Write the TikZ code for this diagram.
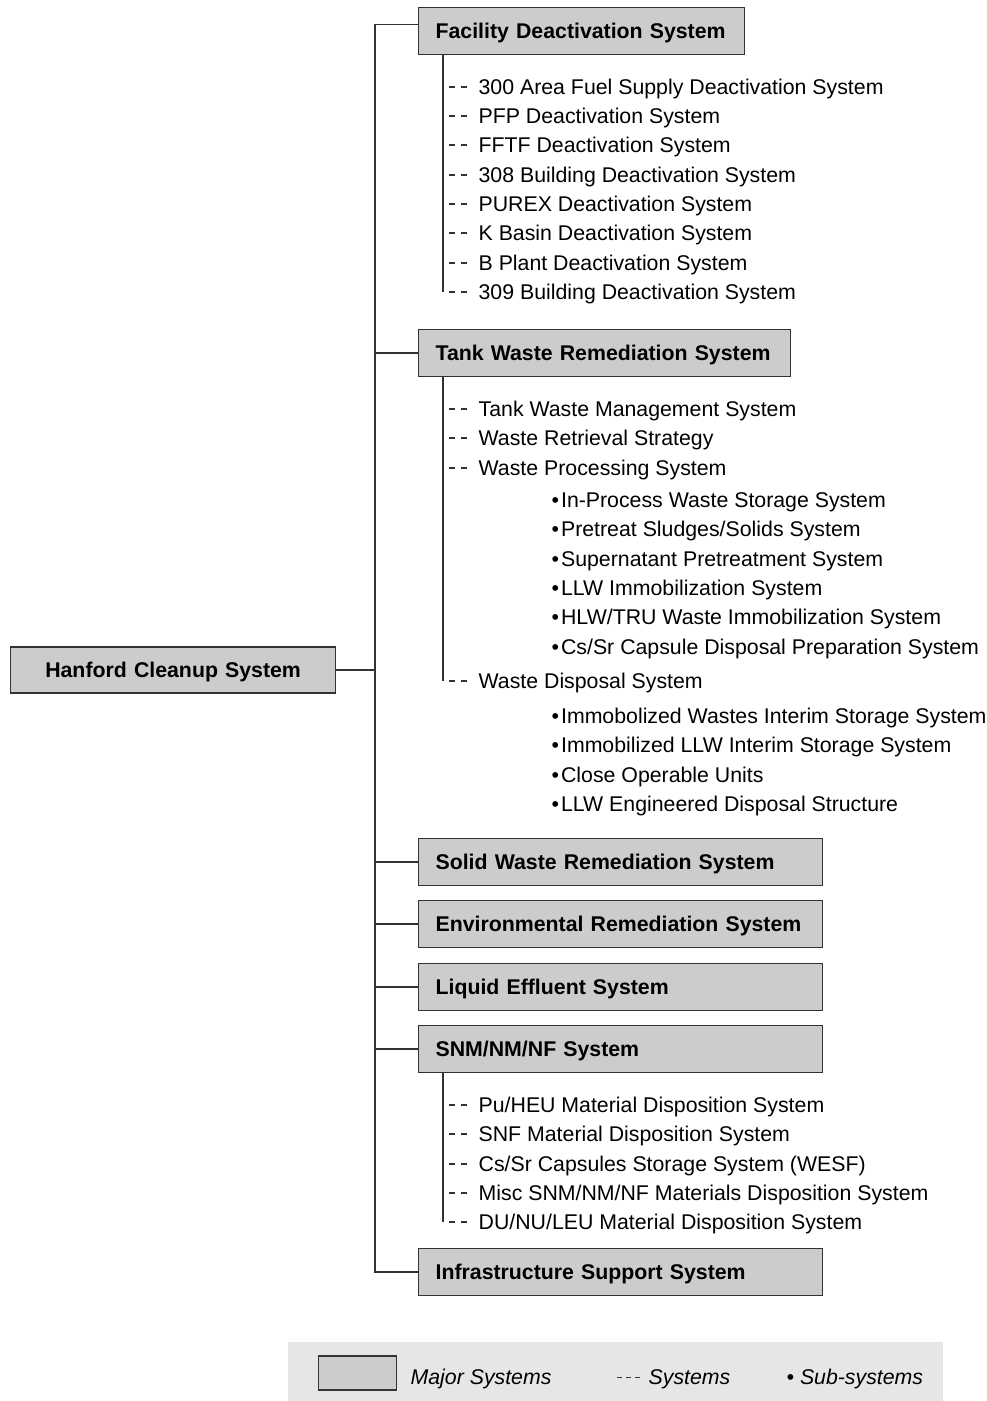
\documentclass[tikz,border=0pt]{standalone}
\usepackage{fontspec}
\setmainfont{Liberation Sans}
\usepackage{tikz}

\definecolor{boxgray}{HTML}{CCCCCC}
\definecolor{keygray}{HTML}{E6E6E6}
\definecolor{rulegray}{HTML}{333333}
\newcommand{\chartfont}{\fontsize{21.3}{25.6}\selectfont}

\begin{document}
\begin{tikzpicture}[x=1pt, y=-1pt, line width=1.3pt, draw=rulegray,
    major/.style={draw=rulegray, fill=boxgray, line width=1.2pt, anchor=north west, minimum height=47pt, inner xsep=17pt, text width=#1, align=left, text height=15.3pt, text depth=0pt, font=\chartfont\bfseries},
    sys/.style={anchor=west, inner xsep=8pt, inner ysep=0pt, text height=15.3pt, text depth=0pt, font=\chartfont},
    sub/.style={anchor=west, inner sep=0pt, text height=15.3pt, text depth=0pt, font=\chartfont},
    sysline/.style={draw=rulegray, line width=1.2pt, dash pattern=on 6pt off 6pt, dash phase=6pt}]
    \useasboundingbox (0,0) rectangle (987,1401);

    % top level
    \node[major=291pt, align=center, anchor=west, minimum height=46pt] (hcs) at (10,670) {Hanford Cleanup System};

    % major systems
    \node[major=292pt] (fds) at (418,7) {Facility Deactivation System};
    \node[major=338pt] (tws) at (418,329) {Tank Waste Remediation System};
    \node[major=370pt] (sws) at (418,838) {Solid Waste Remediation System};
    \node[major=370pt] (ers) at (418,900) {Environmental Remediation System};
    \node[major=370pt] (les) at (418,963) {Liquid Effluent System};
    \node[major=370pt] (snm) at (418,1025) {SNM/NM/NF System};
    \node[major=370pt] (iss) at (418,1248) {Infrastructure Support System};

    \draw (hcs.east) -- ++(40,0);
    \draw ([yshift=6.5pt]fds.west) -- ++(-43,0) |- (iss.west);
    \draw (tws.west) -- ++(-43,0);
    \draw (sws.west) -- ++(-43,0);
    \draw (ers.west) -- ++(-43,0);
    \draw (les.west) -- ++(-43,0);
    \draw (snm.west) -- ++(-43,0);

    % facility deactivation
    \coordinate (fdbar) at ([xshift=25pt]fds.south west);
    \node[sys] (fdone) at (470,87) {300 Area Fuel Supply Deactivation System};
    \node[sys] (fdtwo) at (470,116) {PFP Deactivation System};
    \node[sys] (fdthree) at (470,145) {FFTF Deactivation System};
    \node[sys] (fdfour) at (470,175) {308 Building Deactivation System};
    \node[sys] (fdfive) at (470,204) {PUREX Deactivation System};
    \node[sys] (fdsix) at (470,233) {K Basin Deactivation System};
    \node[sys] (fdseven) at (470,263) {B Plant Deactivation System};
    \node[sys] (fdeight) at (470,292) {309 Building Deactivation System};

    \draw (fdbar) -- (fdbar |- fdeight.west);
    \draw[sysline] (fdbar |- fdone.west) -- (fdone.west);
    \draw[sysline] (fdbar |- fdtwo.west) -- (fdtwo.west);
    \draw[sysline] (fdbar |- fdthree.west) -- (fdthree.west);
    \draw[sysline] (fdbar |- fdfour.west) -- (fdfour.west);
    \draw[sysline] (fdbar |- fdfive.west) -- (fdfive.west);
    \draw[sysline] (fdbar |- fdsix.west) -- (fdsix.west);
    \draw[sysline] (fdbar |- fdseven.west) -- (fdseven.west);
    \draw[sysline] (fdbar |- fdeight.west) -- (fdeight.west);

    % tank waste
    \coordinate (twbar) at ([xshift=25pt]tws.south west);
    \node[sys] (twone) at (470,409) {Tank Waste Management System};
    \node[sys] (twtwo) at (470,438) {Waste Retrieval Strategy};
    \node[sys] (twthree) at (470,468) {Waste Processing System};
    \node[sub] (wpone) at (551,500) {\textbullet\hspace{2pt}In-Process Waste Storage System};
    \node[sub] (wptwo) at (551,529) {\textbullet\hspace{2pt}Pretreat Sludges/Solids System};
    \node[sub] (wpthree) at (551,559) {\textbullet\hspace{2pt}Supernatant Pretreatment System};
    \node[sub] (wpfour) at (551,588) {\textbullet\hspace{2pt}LLW Immobilization System};
    \node[sub] (wpfive) at (551,617) {\textbullet\hspace{2pt}HLW/TRU Waste Immobilization System};
    \node[sub] (wpsix) at (551,647) {\textbullet\hspace{2pt}Cs/Sr Capsule Disposal Preparation System};
    \node[sys] (twfour) at (470,681) {Waste Disposal System};
    \node[sub] (wdone) at (551,716) {\textbullet\hspace{2pt}Immobolized Wastes Interim Storage System};
    \node[sub] (wdtwo) at (551,745) {\textbullet\hspace{2pt}Immobilized LLW Interim Storage System};
    \node[sub] (wdthree) at (551,775) {\textbullet\hspace{2pt}Close Operable Units};
    \node[sub] (wdfour) at (551,804) {\textbullet\hspace{2pt}LLW Engineered Disposal Structure};

    \draw (twbar) -- (twbar |- twfour.west);
    \draw[sysline] (twbar |- twone.west) -- (twone.west);
    \draw[sysline] (twbar |- twtwo.west) -- (twtwo.west);
    \draw[sysline] (twbar |- twthree.west) -- (twthree.west);
    \draw[sysline] (twbar |- twfour.west) -- (twfour.west);

    % nuclear materials
    \coordinate (snbar) at ([xshift=25pt]snm.south west);
    \node[sys] (snone) at (470,1105) {Pu/HEU Material Disposition System};
    \node[sys] (sntwo) at (470,1134) {SNF Material Disposition System};
    \node[sys] (snthree) at (470,1164) {Cs/Sr Capsules Storage System (WESF)};
    \node[sys] (snfour) at (470,1193) {Misc SNM/NM/NF Materials Disposition System};
    \node[sys] (snfive) at (470,1222) {DU/NU/LEU Material Disposition System};

    \draw (snbar) -- (snbar |- snfive.west);
    \draw[sysline] (snbar |- snone.west) -- (snone.west);
    \draw[sysline] (snbar |- sntwo.west) -- (sntwo.west);
    \draw[sysline] (snbar |- snthree.west) -- (snthree.west);
    \draw[sysline] (snbar |- snfour.west) -- (snfour.west);
    \draw[sysline] (snbar |- snfive.west) -- (snfive.west);

    % legend
    \fill[keygray] (288,1342) rectangle (943,1401);
    \node[draw=rulegray, fill=boxgray, line width=1.2pt, minimum width=78pt, minimum height=34pt, anchor=west] (keybox) at (318,1373) {};
    \node[sub, font=\chartfont\itshape] (keymajor) at (410,1377) {Major Systems};
    \node[sub, font=\chartfont\itshape] (keysys) at (648,1377) {Systems};
    \coordinate (keydash) at (617,1377);
    \draw[draw=rulegray, line width=1pt, dash pattern=on 5pt off 4pt] (keydash) -- ([xshift=-6pt]keysys.west);
    \node[sub, font=\chartfont\itshape] (keysub) at (786,1377) {\textbullet\ Sub-systems};
\end{tikzpicture}
\end{document}
